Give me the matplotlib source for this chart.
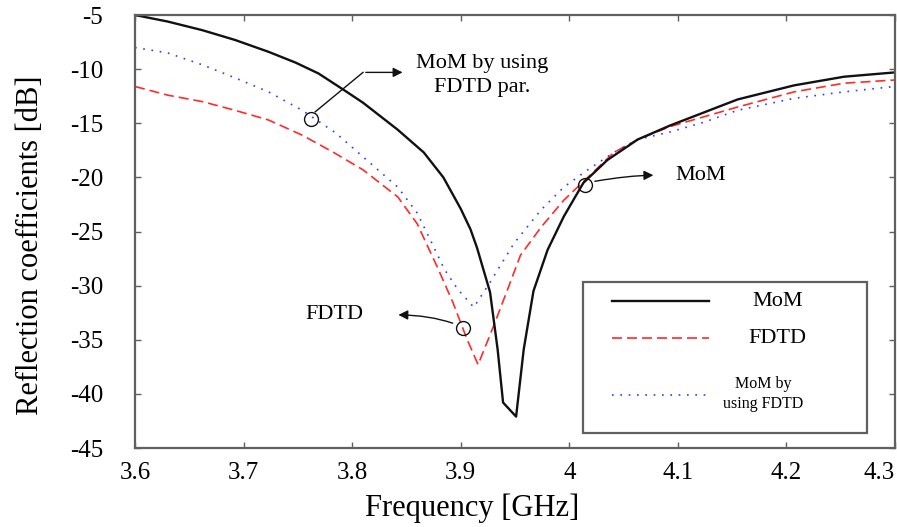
import matplotlib
matplotlib.use("Agg")
import matplotlib.pyplot as plt
import numpy as np
from matplotlib.patches import Rectangle

plt.rcParams["font.family"] = ["Liberation Serif", "DejaVu Serif"]
plt.rcParams["axes.unicode_minus"] = False

# values
mom_freq = [3.600, 3.630, 3.662, 3.692, 3.723, 3.748, 3.769, 3.792, 3.810, 3.842, 3.866,
            3.884, 3.900, 3.909, 3.915, 3.927, 3.934, 3.939, 3.951, 3.958, 3.967, 3.980,
            3.995, 4.013, 4.035, 4.063, 4.093, 4.124, 4.155, 4.207, 4.253, 4.300]
mom_db = [-5.0, -5.6, -6.4, -7.3, -8.4, -9.4, -10.4, -11.9, -13.1, -15.6, -17.7,
          -20.0, -22.9, -24.8, -26.5, -30.6, -35.9, -40.8, -42.1, -35.9, -30.5, -26.7,
          -23.6, -20.5, -18.4, -16.5, -15.2, -14.0, -12.8, -11.5, -10.7, -10.3]

fdtd_freq = [3.600, 3.630, 3.662, 3.692, 3.723, 3.754, 3.783, 3.810, 3.842, 3.860, 3.872,
             3.879, 3.893, 3.906, 3.916, 3.930, 3.943, 3.955, 3.974, 3.995, 4.017, 4.041,
             4.063, 4.093, 4.124, 4.155, 4.207, 4.253, 4.300]
fdtd_db = [-11.6, -12.4, -13.0, -13.8, -14.7, -16.1, -17.7, -19.3, -21.8, -24.3, -26.9,
           -28.4, -31.6, -35.0, -37.3, -33.8, -30.4, -27.2, -24.6, -22.1, -20.0, -17.7,
           -16.5, -15.3, -14.4, -13.5, -12.1, -11.3, -11.0]

mfp_freq = [3.600, 3.630, 3.662, 3.692, 3.723, 3.754, 3.785, 3.810, 3.842, 3.860, 3.875,
            3.885, 3.897, 3.912, 3.927, 3.949, 3.974, 3.995, 4.017, 4.041, 4.063, 4.093,
            4.124, 4.155, 4.207, 4.253, 4.300]
mfp_db = [-8.0, -8.5, -9.6, -10.8, -12.1, -13.8, -15.9, -18.1, -20.9, -23.3, -26.4,
          -28.5, -30.3, -32.0, -29.7, -26.1, -23.0, -20.9, -19.3, -17.7, -16.5, -15.8,
          -14.9, -13.8, -12.7, -12.1, -11.6]

x_ticks = [3.6, 3.7, 3.8, 3.9, 4.0, 4.1, 4.2, 4.3]
x_tick_labels = ["3.6", "3.7", "3.8", "3.9", "4", "4.1", "4.2", "4.3"]
y_ticks = [-45, -40, -35, -30, -25, -20, -15, -10, -5]

black = "#111111"
red = "#ff2a2a"
blue = "#2a3cff"
frame = "#606060"

fig = plt.figure(figsize=(8.97, 5.27), dpi=100)
ax = fig.add_axes([0.1505, 0.1499, 0.8473, 0.8216])

ax.plot(fdtd_freq, fdtd_db, color=red, lw=1.2, dashes=(6, 3))
ax.plot(mfp_freq, mfp_db, color=blue, lw=1.2, dashes=(1, 4))
ax.plot(mom_freq, mom_db, color=black, lw=1.7)

ax.set_xlim(3.6, 4.3)
ax.set_ylim(-45, -5)
ax.set_xticks(x_ticks)
ax.set_xticklabels(x_tick_labels)
ax.set_yticks(y_ticks)
ax.tick_params(direction="in", top=True, right=True, length=4, width=1,
               color=frame, labelsize=18)
ax.tick_params(axis="y", pad=23)
ax.tick_params(axis="x", pad=10)
ax.get_xticklabels()[-1].set_ha("right")
for s in ax.spines.values():
    s.set_color(frame)
    s.set_linewidth(1.6)

ax.set_xlabel("Frequency [GHz]", fontsize=22)
ax.set_ylabel("Reflection coefficients [dB]", fontsize=22)
ax.xaxis.set_label_coords(0.443, -0.105)
ax.yaxis.set_label_coords(-0.119, 0.469)

# annotations: circle on a curve, leader line, arrow, text
arrow = dict(arrowstyle="-|>", color=black, lw=1, mutation_scale=14)
ring = dict(marker="o", ms=10, mfc="none", mec=black, mew=1)

c1 = (3.762, np.interp(3.762, mfp_freq, mfp_db) - 0.3)
ax.plot(*c1, **ring)
ax.plot([c1[0] + 0.004, 3.81], [c1[1] + 0.7, -10.3], color=black, lw=1)
ax.annotate("", xy=(3.849, -10.3), xytext=(3.81, -10.3), arrowprops=arrow)
ax.text(3.92, -10.6, "MoM by using\nFDTD par.", fontsize=16, ha="center", va="center",
        linespacing=1.4)

c2 = (4.014, np.interp(4.014, mom_freq, mom_db) - 0.3)
ax.plot(*c2, **ring)
ax.annotate("", xy=(4.080, -19.8), xytext=(c2[0] + 0.007, c2[1] + 0.3),
            arrowprops=dict(arrow, connectionstyle="angle3,angleA=10,angleB=0"))
ax.text(4.098, -19.8, "MoM", fontsize=16, ha="left", va="center")

c3 = (3.902, np.interp(3.902, fdtd_freq, fdtd_db))
ax.plot(*c3, **ring)
ax.annotate("", xy=(3.840, -32.7), xytext=(c3[0] - 0.007, c3[1] + 0.4),
            arrowprops=dict(arrow, connectionstyle="angle3,angleA=160,angleB=180"))
ax.text(3.810, -32.7, "FDTD", fontsize=16, ha="right", va="center")

# legend box drawn by hand to keep the reference layout
ax.add_patch(Rectangle((0.5895, 0.0346), 0.3735, 0.3484, transform=ax.transAxes,
                       fill=False, edgecolor=frame, lw=1.6))
ax.plot([0.6276, 0.7553], [0.3395, 0.3395], transform=ax.transAxes, color=black, lw=1.7)
ax.plot([0.6276, 0.7553], [0.254, 0.254], transform=ax.transAxes, color=red, lw=1.2,
        dashes=(6, 3))
ax.plot([0.6276, 0.7553], [0.1224, 0.1224], transform=ax.transAxes, color=blue, lw=1.2,
        dashes=(1, 4))
ax.text(0.846, 0.3395, "MoM", transform=ax.transAxes, fontsize=16, ha="center", va="center")
ax.text(0.845, 0.254, "FDTD", transform=ax.transAxes, fontsize=16, ha="center", va="center")
ax.text(0.826, 0.125, "MoM by\nusing FDTD", transform=ax.transAxes, fontsize=11.5,
        ha="center", va="center", linespacing=1.3)

fig.savefig("out.png", dpi=100)
